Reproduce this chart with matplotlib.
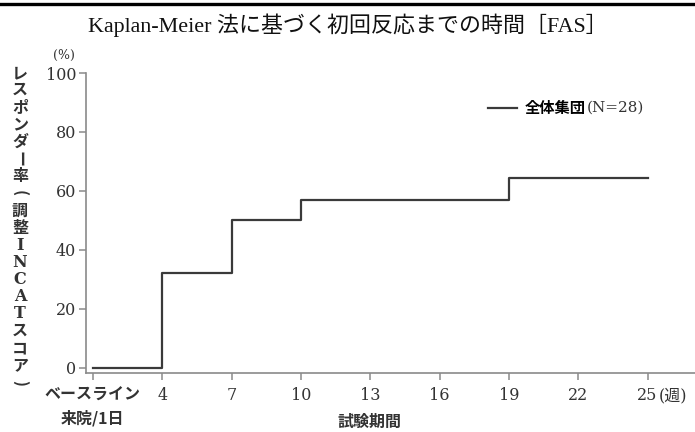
import matplotlib
matplotlib.use("Agg")
import matplotlib.pyplot as plt
from matplotlib.lines import Line2D

# data
weeks = [1, 4, 7, 10, 19, 25]
responder_pct = [0, 32.1, 50.0, 57.1, 64.3, 64.3]
xticks = [1, 4, 7, 10, 13, 16, 19, 22, 25]
xtick_labels = ["ベースライン\n来院/1日", "4", "7", "10", "13", "16", "19", "22", "25"]
yticks = [0, 20, 40, 60, 80, 100]
series_name = "全体集団"
series_n = "(N=28)"
title = "Kaplan-Meier 法に基づく初回反応までの時間［FAS］"
# vertical label; second field marks characters turned for vertical writing
ylabel_chars = [("レ", 0), ("ス", 0), ("ポ", 0), ("ン", 0), ("ダ", 0), ("ー", 1),
                ("率", 0), ("(", 1), ("調", 0), ("整", 0), ("I", 0), ("N", 0),
                ("C", 0), ("A", 0), ("T", 0), ("ス", 0), ("コ", 0), ("ア", 0),
                (")", 1)]

W, H = 695, 432
SERIF = ["DejaVu Serif", "Noto Sans CJK JP"]
JP = ["Noto Sans CJK JP", "DejaVu Sans"]
AX_GRAY = "#8a8a8a"
TXT = "#333333"

fig = plt.figure(figsize=(W / 100, H / 100), dpi=100)
ax = fig.add_axes([86 / W, (H - 373) / H, (W - 86) / W, 300 / H])

ax.step(weeks, responder_pct, where="post", color="#3a3a3a", lw=1.6,
        label=series_name)

ax.set_xlim(0.7, 27.05)
ax.set_ylim(-1.7, 100)
for s in ("top", "right"):
    ax.spines[s].set_visible(False)
for s in ("left", "bottom"):
    ax.spines[s].set_color(AX_GRAY)
    ax.spines[s].set_linewidth(1.2)

ax.set_yticks(yticks)
ax.set_yticklabels([str(v) for v in yticks], family=SERIF, fontsize=11.5, color=TXT)
ax.set_xticks(xticks)
ax.set_xticklabels(xtick_labels, family=SERIF, fontsize=11.5, color=TXT)
ax.tick_params(axis="both", direction="out", length=5, width=1.1, color=AX_GRAY)
ax.tick_params(axis="y", pad=2)
ax.tick_params(axis="x", pad=5)
first = ax.get_xticklabels()[0]
first.set_fontfamily(JP)
first.set_fontweight("bold")
first.set_fontsize(11.5)
first.set_linespacing(1.55)

# unit after last tick, same line as tick labels
ax.annotate("(週)", xy=(xticks[-1], 0), xycoords=("data", "axes fraction"),
            xytext=(8, -10), textcoords="offset points", family=SERIF,
            fontsize=11.5, color=TXT, ha="left", va="top")

leg = ax.legend(loc="center left", bbox_to_anchor=(0.650, 0.883),
                borderaxespad=0, frameon=False, handlelength=1.9,
                handletextpad=0.5, prop={"family": JP, "size": 11, "weight": "bold"})
fig.canvas.draw()
bb = leg.get_texts()[0].get_window_extent()
fig.text(bb.x1 / W + 1 / W, (bb.y0 + bb.y1) / 2 / H, series_n, family=SERIF,
         fontsize=11, ha="left", va="center", color=TXT)

# title and outer labels
fig.text(0.5, 1 - 25 / H, title, family=["Liberation Serif", "Noto Sans CJK JP"],
         fontsize=15.8, ha="center", va="center", color="#111111")
fig.text(64 / W, 1 - 55 / H, "(%)", family=SERIF, fontsize=9, ha="center",
         va="center", color=TXT)
fig.text(370 / W, 1 - 422 / H, "試験期間", family=JP, fontweight="bold",
         fontsize=11.5, ha="center", va="center", color=TXT)

y0, step = 73, 17.2
for i, (ch, rot) in enumerate(ylabel_chars):
    fam = SERIF if ch in "INCAT" else JP
    fig.text(20 / W, 1 - (y0 + i * step) / H, ch, family=fam, fontweight="bold",
             fontsize=11.5, ha="center", va="center", color=TXT,
             rotation=-90 if rot else 0, rotation_mode="anchor")

fig.add_artist(Line2D([0, 1], [1 - 4 / H, 1 - 4 / H], color="black", lw=2.4))

fig.savefig("out.png", dpi=100)
